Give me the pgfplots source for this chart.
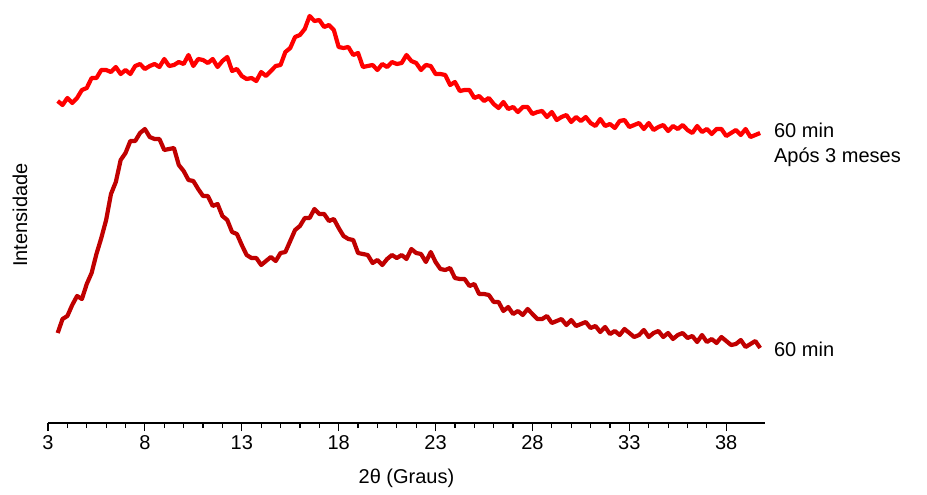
\documentclass[border=0pt]{standalone}
\usepackage{fontspec}
\setmainfont{Liberation Sans}
\usepackage{pgfplots}
\pgfplotsset{compat=1.18}

\definecolor{topred}{HTML}{FF0000}
\definecolor{darkred}{HTML}{C00000}

\begin{document}
\fontsize{10}{12.5}\selectfont
\begin{tikzpicture}
\begin{axis}[
    at={(0,0)}, anchor=south west,
    scale only axis,
    width=358.5pt, height=210pt,
    xmin=3, xmax=40, ymin=0, ymax=420,
    axis x line*=bottom,
    axis y line=none,
    ytick=\empty,
    xtick={3,8,...,38},
    minor x tick num=4,
    tick align=outside,
    major tick length=4pt,
    minor tick length=2.5pt,
    every tick/.style={black, line width=0.6pt},
    axis line style={black, line width=0.6pt},
    /pgf/number format/assume math mode=true,
    ticklabel style={font=\fontsize{10}{12}\selectfont},
    xticklabel style={yshift=1.5pt},
    xlabel={2θ (Graus)},
    xlabel style={yshift=-3pt},
    clip=false,
]
% 60 min, apos 3 meses
\addplot[topred, line width=2.1pt, line join=round] coordinates {
(3.50,322) (3.75,318) (4.00,325) (4.25,320) (4.50,325) (4.75,333) (5.00,335) (5.25,345)
(5.50,345) (5.75,353) (6.00,353) (6.25,351) (6.50,356) (6.75,349) (7.00,353) (7.25,349)
(7.50,357) (7.75,359) (8.00,354) (8.25,357) (8.50,359) (8.75,356) (9.00,364) (9.25,357)
(9.50,358) (9.75,361) (10.00,359) (10.25,368) (10.50,357) (10.75,364) (11.00,363) (11.25,360)
(11.50,364) (11.75,356) (12.00,362) (12.25,366) (12.50,352) (12.75,354) (13.00,347) (13.25,344)
(13.50,345) (13.75,342) (14.00,351) (14.25,347) (14.50,352) (14.75,357) (15.00,358) (15.25,371)
(15.50,375) (15.75,386) (16.00,388) (16.25,394) (16.50,407) (16.75,402) (17.00,403) (17.25,396)
(17.50,398) (17.75,393) (18.00,376) (18.25,375) (18.50,376) (18.75,368) (19.00,370) (19.25,356)
(19.50,357) (19.75,358) (20.00,353) (20.25,359) (20.50,356) (20.75,361) (21.00,359) (21.25,360)
(21.50,368) (21.75,362) (22.00,360) (22.25,353) (22.50,358) (22.75,357) (23.00,349) (23.25,349)
(23.50,348) (23.75,338) (24.00,341) (24.25,332) (24.50,333) (24.75,333) (25.00,325) (25.25,327)
(25.50,322) (25.75,325) (26.00,319) (26.25,315) (26.50,321) (26.75,314) (27.00,316) (27.25,311)
(27.50,316) (27.75,316) (28.00,309) (28.25,311) (28.50,312) (28.75,306) (29.00,311) (29.25,303)
(29.50,306) (29.75,308) (30.00,301) (30.25,306) (30.50,302) (30.75,306) (31.00,300) (31.25,297)
(31.50,304) (31.75,297) (32.00,299) (32.25,295) (32.50,302) (32.75,303) (33.00,296) (33.25,298)
(33.50,300) (33.75,294) (34.00,300) (34.25,293) (34.50,296) (34.75,298) (35.00,292) (35.25,297)
(35.50,294) (35.75,298) (36.00,293) (36.25,290) (36.50,297) (36.75,291) (37.00,294) (37.25,289)
(37.50,294) (37.75,294) (38.00,287) (38.25,290) (38.50,293) (38.75,288) (39.00,294) (39.25,286)
(39.50,288) (39.75,290)
};
% 60 min
\addplot[darkred, line width=2.1pt, line join=round] coordinates {
(3.50,90) (3.75,104) (4.00,107) (4.25,118) (4.50,127) (4.75,124) (5.00,139) (5.25,150)
(5.50,169) (5.75,185) (6.00,203) (6.25,229) (6.50,241) (6.75,263) (7.00,270) (7.25,282)
(7.50,282) (7.75,290) (8.00,294) (8.25,286) (8.50,284) (8.75,284) (9.00,273) (9.25,274)
(9.50,275) (9.75,258) (10.00,252) (10.25,243) (10.50,242) (10.75,234) (11.00,227) (11.25,227)
(11.50,217) (11.75,219) (12.00,207) (12.25,203) (12.50,191) (12.75,189) (13.00,178) (13.25,168)
(13.50,165) (13.75,165) (14.00,158) (14.25,162) (14.50,166) (14.75,162) (15.00,170) (15.25,171)
(15.50,182) (15.75,193) (16.00,197) (16.25,205) (16.50,205) (16.75,214) (17.00,209) (17.25,209)
(17.50,202) (17.75,204) (18.00,195) (18.25,187) (18.50,184) (18.75,183) (19.00,170) (19.25,169)
(19.50,168) (19.75,160) (20.00,163) (20.25,158) (20.50,164) (20.75,168) (21.00,165) (21.25,168)
(21.50,164) (21.75,174) (22.00,170) (22.25,169) (22.50,161) (22.75,171) (23.00,161) (23.25,154)
(23.50,153) (23.75,155) (24.00,145) (24.25,144) (24.50,144) (24.75,137) (25.00,139) (25.25,129)
(25.50,129) (25.75,128) (26.00,121) (26.25,121) (26.50,112) (26.75,116) (27.00,109) (27.25,112)
(27.50,108) (27.75,114) (28.00,109) (28.25,104) (28.50,104) (28.75,107) (29.00,100) (29.25,102)
(29.50,104) (29.75,98) (30.00,103) (30.25,97) (30.50,99) (30.75,101) (31.00,95) (31.25,97)
(31.50,91) (31.75,96) (32.00,89) (32.25,92) (32.50,88) (32.75,94) (33.00,90) (33.25,86)
(33.50,88) (33.75,93) (34.00,86) (34.25,90) (34.50,92) (34.75,86) (35.00,90) (35.25,84)
(35.50,88) (35.75,90) (36.00,85) (36.25,87) (36.50,81) (36.75,88) (37.00,81) (37.25,84)
(37.50,80) (37.75,86) (38.00,82) (38.25,78) (38.50,79) (38.75,83) (39.00,76) (39.25,79)
(39.50,82) (39.75,75)
};
\node[anchor=west, align=left, inner sep=0pt] at (axis cs:40.45,278) {60 min\\Após 3 meses};
\node[anchor=west, inner sep=0pt] at (axis cs:40.45,74) {60 min};
\node[rotate=90] at (rel axis cs:-0.039,0.495) {Intensidade};
\end{axis}
\pgfresetboundingbox
\path (-24pt,-35.5pt) rectangle (439.5pt,211.5pt);
\end{tikzpicture}
\end{document}
